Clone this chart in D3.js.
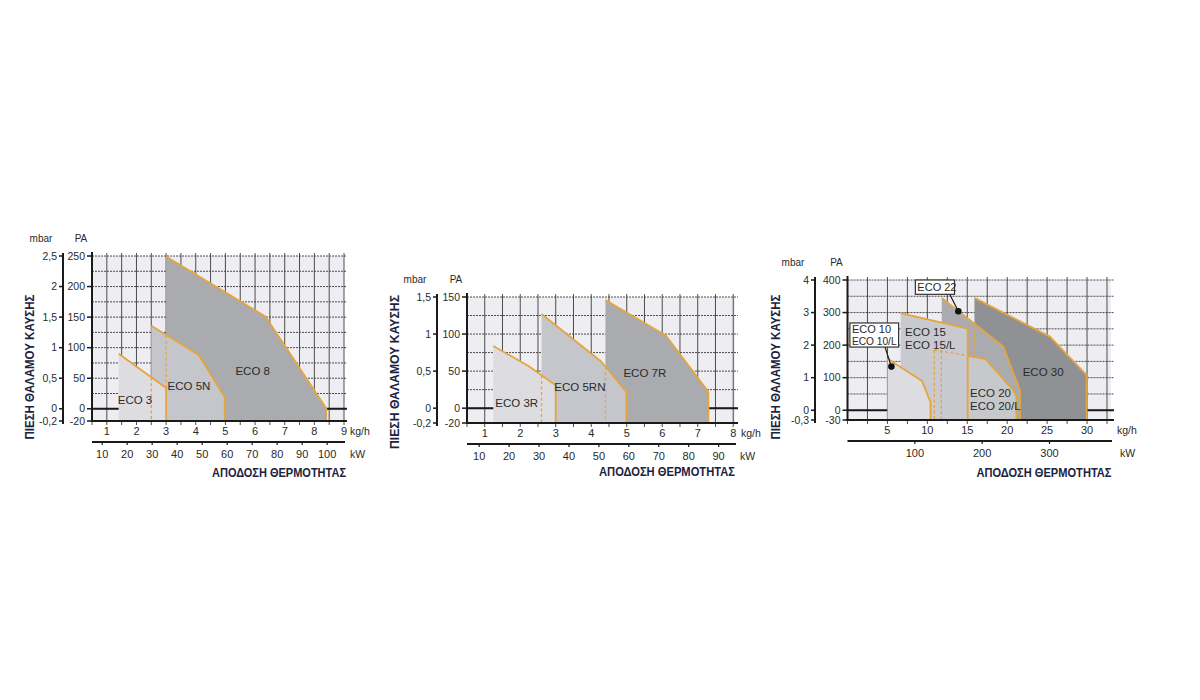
<!DOCTYPE html>
<html><head><meta charset="utf-8">
<script src="https://cdn.jsdelivr.net/npm/d3@7/dist/d3.min.js"></script>
<style>body{margin:0;background:#fff}svg{display:block}</style>
</head><body><svg id="c" width="1200" height="700"></svg>
<script>
// ---------- DATA ----------
const KW_PER_KG = 11.86;
const yTitle = "ΠΙΕΣΗ ΘΑΛΑΜΟΥ ΚΑΥΣΗΣ";
const xTitle = "ΑΠΟΔΟΣΗ ΘΕΡΜΟΤΗΤΑΣ";

// Chart 1
const c1KgTicks = [1,2,3,4,5,6,7,8,9];
const c1KwTicks = [10,20,30,40,50,60,70,80,90,100];
const c1PaTicks = [250,200,150,100,50,0,-20];
const c1MbarLabels = ["2,5","2","1,5","1","0,5","0","-0,2"];
const c1Names = ["ECO 8","ECO 5N","ECO 3"];
const c1Eco8 = [[3.0,-20],[3.0,249],[6.35,151],[8.4,1],[8.4,-20]];
const c1Eco5N = [[2.5,-20],[2.5,136],[4.1,88],[4.98,19],[4.98,-20]];
const c1Eco3 = [[1.4,-20],[1.4,90],[3.0,34],[3.0,-20]];
const c1Dashed = [[[2.5,51],[2.5,-20]],[[3.0,120],[3.0,34]]];
const c1LabelPos = [[5.92,62],[3.77,38],[1.95,14]];

// Chart 2
const c2KgTicks = [1,2,3,4,5,6,7,8];
const c2KwTicks = [10,20,30,40,50,60,70,80,90];
const c2PaTicks = [150,100,50,0,-20];
const c2MbarLabels = ["1,5","1","0,5","0","-0,2"];
const c2Names = ["ECO 7R","ECO 5RN","ECO 3R"];
const c2Eco7R = [[4.4,-20],[4.4,146],[6.1,98],[7.3,22],[7.3,-20]];
const c2Eco5RN = [[2.6,-20],[2.6,127],[4.28,63],[4.99,22],[4.99,-20]];
const c2Eco3R = [[1.24,-20],[1.24,84],[2.23,57],[3.0,31],[3.0,-20]];
const c2Dashed = [[[2.6,44],[2.6,-20]],[[4.4,56],[4.4,-20]]];
const c2LabelPos = [[5.51,47],[3.68,28],[1.9,7]];

// Chart 3
const c3KgTicks = [5,10,15,20,25,30];
const c3KwTicks = [100,200,300];
const c3PaTicks = [400,300,200,100,0,-30];
const c3MbarLabels = ["4","3","2","1","0","-0,3"];
const c3Names = ["ECO 30","ECO 22","ECO 20","ECO 15","ECO 10"];
const c3Eco30 = [[15.9,-30],[15.9,345],[25.35,226],[29.95,108],[29.95,-30]];
const c3Eco22 = [[11.8,-30],[11.8,345],[19.5,196],[21.6,62],[21.6,-30]];
const c3Eco20 = [[10.87,-30],[10.87,185],[15.1,167],[17.3,157],[20.8,60],[21.15,42],[21.15,-30]];
const c3Eco15 = [[6.66,-30],[6.66,298],[15.05,251],[15.05,-30]];
const c3Eco10 = [[5.0,-30],[5.0,159],[9.33,90],[10.4,24],[10.4,-30]];
const c3Dashed = [[[10.87,185],[10.87,-30]],[[11.75,183],[11.75,-30]],[[10.87,185],[15.05,168]],[[15.9,267],[15.9,164]]];

// ---------- DRAWING ----------
const svg = d3.select("#c");
const ORANGE = "#e6a53c";
const FONT = "'Liberation Sans Narrow','Liberation Sans',Arial,sans-serif";

function drawChart(o){
  const x = d3.scaleLinear().domain(o.kgDomain).range([o.left,o.right]);
  const y = d3.scaleLinear().domain(o.paDomain).range([o.bottom,o.top]);
  const kw = d3.scaleLinear().domain(o.kgDomain.map(d=>d*KW_PER_KG)).range([o.left,o.right]);
  const g = svg.append("g");

  g.append("rect").attr("x",o.left).attr("y",y(o.paDomain[1])).attr("width",o.right-o.left)
    .attr("height",o.bottom-y(o.paDomain[1])).attr("fill","#eeeef2");
  const vg = d3.range(o.kgDomain[0], o.kgDomain[1]+1e-6, o.vStep);
  g.selectAll(".vg").data(vg).enter().append("line")
    .attr("x1",d=>x(d)).attr("x2",d=>x(d)).attr("y1",y(o.paDomain[1])-3).attr("y2",o.bottom+4)
    .attr("stroke","#3a3a3a").attr("stroke-width",0.9);
  const hg = d3.range(0, o.paDomain[1]+1e-6, o.hStep);
  g.selectAll(".hg").data(hg).enter().append("line")
    .attr("x1",o.left).attr("x2",o.right+3).attr("y1",d=>y(d)).attr("y2",d=>y(d))
    .attr("stroke","#3a3a3a").attr("stroke-width",0.9).attr("stroke-dasharray","2,1");
  g.append("line").attr("x1",o.left).attr("x2",o.right+3).attr("y1",y(0)).attr("y2",y(0))
    .attr("stroke","#1a1a1a").attr("stroke-width",2);

  const line = d3.line().x(d=>x(d[0])).y(d=>y(d[1]));
  o.shapes.forEach((s,i)=>{
    g.append("path").attr("d",line(s)+"Z").attr("fill",o.fills[i]);
    g.append("path").attr("d",line(s.slice(1))).attr("fill","none")
      .attr("stroke",ORANGE).attr("stroke-width",1.8).attr("stroke-linejoin","round");
  });
  o.dashed.forEach(s=>{
    g.append("path").attr("d",line(s)).attr("fill","none").attr("stroke",ORANGE)
      .attr("stroke-width",1.3).attr("stroke-dasharray","3,2.5");
  });

  g.append("line").attr("x1",o.left).attr("x2",o.left).attr("y1",y(o.paDomain[1])-4).attr("y2",o.bottom+1)
    .attr("stroke","#1a1a1a").attr("stroke-width",2);
  g.append("line").attr("x1",o.left-1).attr("x2",o.right+3).attr("y1",o.bottom).attr("y2",o.bottom)
    .attr("stroke","#1a1a1a").attr("stroke-width",2);
  o.paTicks.forEach((t,i)=>{
    g.append("line").attr("x1",o.left-5).attr("x2",o.left).attr("y1",y(t)).attr("y2",y(t))
      .attr("stroke","#1a1a1a").attr("stroke-width",1.5);
    g.append("text").attr("x",o.left-7).attr("y",y(t)).attr("dy","0.35em").attr("text-anchor","end")
      .attr("font-size",10.5).attr("font-family",FONT).attr("fill","#2a2a2a").text(t);
    g.append("line").attr("x1",o.mbarX-4).attr("x2",o.mbarX).attr("y1",y(t)).attr("y2",y(t))
      .attr("stroke","#1a1a1a").attr("stroke-width",1.5);
    g.append("text").attr("x",o.mbarX-6).attr("y",y(t)).attr("dy","0.35em").attr("text-anchor","end")
      .attr("font-size",10.5).attr("font-family",FONT).attr("fill","#2a2a2a").text(o.mbar[i]);
  });
  g.append("line").attr("x1",o.mbarX).attr("x2",o.mbarX).attr("y1",y(o.paDomain[1])-3).attr("y2",o.bottom+3)
    .attr("stroke","#1a1a1a").attr("stroke-width",2);
  g.append("text").attr("x",o.mbarX-22).attr("y",y(o.paDomain[1])-14).attr("text-anchor","middle")
    .attr("font-size",10).attr("font-family",FONT).attr("fill","#2a2a2a").text("mbar");
  g.append("text").attr("x",o.left-11).attr("y",y(o.paDomain[1])-14).attr("text-anchor","middle")
    .attr("font-size",10).attr("font-family",FONT).attr("fill","#2a2a2a").text("PA");

  o.kgTicks.forEach(t=>{
    g.append("text").attr("x",x(t)).attr("y",o.bottom+14).attr("text-anchor","middle")
      .attr("font-size",11).attr("font-family",FONT).attr("fill","#2a2a2a").text(t);
  });
  g.append("text").attr("x",o.right+6).attr("y",o.bottom+14).attr("font-size",10.5)
    .attr("font-family",FONT).attr("fill","#2a2a2a").text("kg/h");
  const kwY = o.bottom+21;
  g.append("line").attr("x1",o.left).attr("x2",o.right+1).attr("y1",kwY).attr("y2",kwY)
    .attr("stroke","#1a1a1a").attr("stroke-width",2);
  o.kwTicks.forEach(t=>{
    g.append("line").attr("x1",kw(t)).attr("x2",kw(t)).attr("y1",kwY).attr("y2",kwY+3)
      .attr("stroke","#1a1a1a").attr("stroke-width",1.2);
    g.append("text").attr("x",kw(t)).attr("y",kwY+16).attr("text-anchor","middle")
      .attr("font-size",11).attr("font-family",FONT).attr("fill","#2a2a2a").text(t);
  });
  g.append("text").attr("x",o.right+o.kwUnitDx).attr("y",kwY+16).attr("font-size",10.5)
    .attr("font-family",FONT).attr("fill","#2a2a2a").text("kW");
  g.append("text").attr("x",o.xTitleX).attr("y",o.xTitleY).attr("text-anchor","middle")
    .attr("font-size",12.5).attr("font-weight","bold").attr("font-family","'Liberation Sans',Arial,sans-serif")
    .attr("fill","#1c2340").attr("textLength",o.xTitleLen).attr("lengthAdjust","spacingAndGlyphs").text(xTitle);
  g.append("text").attr("transform",`translate(${o.yTitleX},${o.yTitleY}) rotate(-90)`).attr("text-anchor","middle")
    .attr("font-size",12.5).attr("font-weight","bold").attr("font-family","'Liberation Sans',Arial,sans-serif")
    .attr("fill","#1c2340").attr("textLength",o.yTitleLen).attr("lengthAdjust","spacingAndGlyphs").text(yTitle);

  (o.labels||[]).forEach(l=>{
    const t = g.append("text").attr("x",x(l.pos[0])).attr("y",y(l.pos[1])).attr("dy","0.35em")
      .attr("text-anchor",l.anchor||"middle").attr("font-size",11.5).attr("font-family",FONT).attr("fill","#2a2a2a");
    l.lines.forEach((s,k)=>t.append("tspan").attr("x",x(l.pos[0])).attr("dy",k===0?"0.35em":"1.15em").text(s));
  });
  return {g,x,y};
}

drawChart({
  kgDomain:[0.5,9.0], paDomain:[-20,250], left:92, right:344, top:256, bottom:421,
  vStep:0.5, hStep:25, mbarX:63, kwUnitDx:6,
  shapes:[c1Eco8,c1Eco5N,c1Eco3], fills:["#a9abaf","#c4c6cb","#dcdce1"], dashed:c1Dashed,
  paTicks:c1PaTicks, mbar:c1MbarLabels, kgTicks:c1KgTicks, kwTicks:c1KwTicks,
  xTitleX:279, xTitleY:477, xTitleLen:134, yTitleX:34, yTitleY:367, yTitleLen:145,
  labels:c1Names.map((n,i)=>({pos:c1LabelPos[i],lines:[n]}))
});
drawChart({
  kgDomain:[0.5,8.05], paDomain:[-20,150], left:467, right:735, top:297, bottom:423,
  vStep:0.5, hStep:25, mbarX:437, kwUnitDx:5,
  shapes:[c2Eco7R,c2Eco5RN,c2Eco3R], fills:["#a9abaf","#c4c6cb","#dcdce1"], dashed:c2Dashed,
  paTicks:c2PaTicks, mbar:c2MbarLabels, kgTicks:c2KgTicks, kwTicks:c2KwTicks,
  xTitleX:667, xTitleY:476, xTitleLen:136, yTitleX:399, yTitleY:372, yTitleLen:154,
  labels:c2Names.map((n,i)=>({pos:c2LabelPos[i],lines:[n]}))
});
const c3 = drawChart({
  kgDomain:[0,33], paDomain:[-30,400], left:847.5, right:1111, top:280, bottom:420,
  vStep:2.5, hStep:50, mbarX:815, kwUnitDx:9,
  shapes:[c3Eco30,c3Eco22,c3Eco20,c3Eco15,c3Eco10], fills:["#8f9195","#a9abaf","#c6c8cc","#c9cacf","#dcdce1"], dashed:c3Dashed,
  paTicks:c3PaTicks, mbar:c3MbarLabels, kgTicks:c3KgTicks, kwTicks:c3KwTicks,
  xTitleX:1044, xTitleY:477, xTitleLen:135, yTitleX:780, yTitleY:367, yTitleLen:145,
  labels:[
    {pos:[7.2,240],lines:["ECO 15","ECO 15/L"],anchor:"start"},
    {pos:[15.35,54],lines:["ECO 20","ECO 20/L"],anchor:"start"},
    {pos:[24.5,118],lines:["ECO 30"]}
  ]
});

// callouts chart 3
const c3Callouts = [
  {name:["ECO 10","ECO 10/L"], box:[0.3,268,6.4,194], from:[4.7,194], dot:[5.5,134]},
  {name:["ECO 22"], box:[8.5,400,13.4,356], from:[12.8,356], dot:[13.88,304]}
];
c3Callouts.forEach(c=>{
  const {g,x,y} = c3;
  g.append("line").attr("x1",x(c.from[0])).attr("y1",y(c.from[1])).attr("x2",x(c.dot[0])).attr("y2",y(c.dot[1]))
    .attr("stroke","#1a1a1a").attr("stroke-width",1.2);
  g.append("circle").attr("cx",x(c.dot[0])).attr("cy",y(c.dot[1])).attr("r",3.3).attr("fill","#111");
  g.append("rect").attr("x",x(c.box[0])).attr("y",y(c.box[1])).attr("width",x(c.box[2])-x(c.box[0]))
    .attr("height",y(c.box[3])-y(c.box[1])).attr("fill","#fff").attr("stroke","#333").attr("stroke-width",1.2);
  const w = x(c.box[2])-x(c.box[0]) - 4;
  const t = g.append("text").attr("font-size",11).attr("font-family",FONT).attr("fill","#2a2a2a");
  c.name.forEach((s,k)=>{
    const sp = t.append("tspan").attr("x",x(c.box[0])+2).attr("y",y(c.box[1])+10.5+k*12).text(s);
    if (s.length > 6) sp.attr("textLength", w).attr("lengthAdjust","spacingAndGlyphs");
  });
});
</script></body></html>
